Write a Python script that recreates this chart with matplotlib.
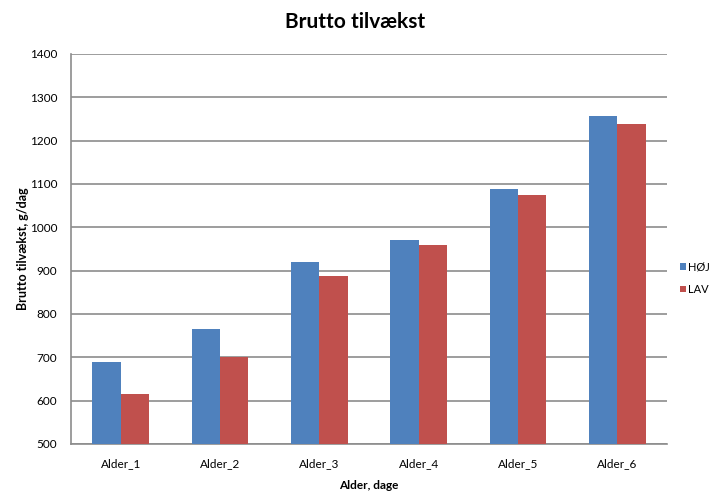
import matplotlib
matplotlib.use("Agg")
import matplotlib.pyplot as plt
import numpy as np

plt.rcParams['font.family'] = ['Lato', 'DejaVu Sans']

categories = ["Alder_1", "Alder_2", "Alder_3", "Alder_4", "Alder_5", "Alder_6"]
hoej = [690, 765, 920, 970, 1088, 1258]
lav = [615, 700, 887, 960, 1074, 1238]
yticks = [500, 600, 700, 800, 900, 1000, 1100, 1200, 1300, 1400]

fig = plt.figure(figsize=(7.11, 4.91), dpi=100)
ax = fig.add_axes([71 / 711, 47 / 491, 596 / 711, 390 / 491])

x = np.arange(len(categories))
w = 0.285
ax.bar(x - w / 2, hoej, width=w, color="#4F81BD", label="HØJ", zorder=3)
ax.bar(x + w / 2, lav, width=w, color="#C0504D", label="LAV", zorder=3)

ax.set_xlim(-0.5, len(categories) - 0.5)
ax.set_ylim(500, 1400)
ax.set_yticks(yticks)
ax.set_xticks(x)
ax.set_xticklabels(categories, fontsize=8.5)
ax.tick_params(axis="y", labelsize=8.5, length=0, pad=10)
ax.tick_params(axis="x", length=0, pad=10)
ax.grid(axis="y", color="#8c8c8c", linewidth=1.2, zorder=0)

for side in ("top", "right"):
    ax.spines[side].set_visible(False)
for side in ("left", "bottom"):
    ax.spines[side].set_color("#8c8c8c")
    ax.spines[side].set_linewidth(1.2)

ax.set_xlabel("Alder, dage", fontsize=8.5, fontweight="bold", labelpad=8)
ax.set_ylabel("Brutto tilvækst, g/dag", fontsize=9, fontweight="bold")
ax.yaxis.set_label_coords(-0.07, 0.5)
fig.suptitle("Brutto tilvækst", fontsize=15, fontweight="bold", y=0.975)

ax.legend(loc="center left", bbox_to_anchor=(1.022, 0.425), frameon=False,
          fontsize=8, handlelength=0.55, handleheight=0.55, handletextpad=0.2,
          labelspacing=1.0, borderpad=0, borderaxespad=0)

fig.savefig("out.png", dpi=100)
